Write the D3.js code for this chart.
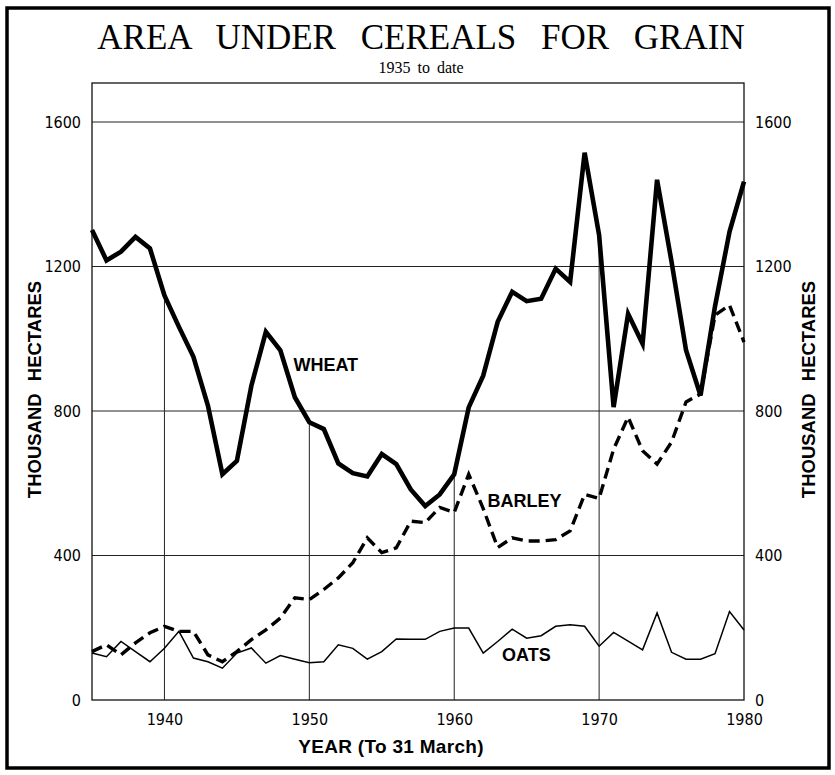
<!DOCTYPE html>
<html>
<head>
<meta charset="utf-8">
<script src="https://cdn.jsdelivr.net/npm/d3@7"></script>
<style>
body { margin: 0; background: #fff; }
svg { display: block; }
</style>
</head>
<body>
<svg></svg>
<script>
var years = [1935, 1936, 1937, 1938, 1939, 1940, 1941, 1942, 1943, 1944,
	1945, 1946, 1947, 1948, 1949, 1950, 1951, 1952, 1953, 1954,
	1955, 1956, 1957, 1958, 1959, 1960, 1961, 1962, 1963, 1964,
	1965, 1966, 1967, 1968, 1969, 1970, 1971, 1972, 1973, 1974,
	1975, 1976, 1977, 1978, 1979, 1980];
// thousand hectares
var wheat = [1301, 1217, 1241, 1282, 1250, 1120, 1033, 950, 815, 625,
	662, 870, 1019, 968, 838, 769, 750, 655, 628, 619,
	681, 653, 583, 537, 569, 625, 810, 898, 1047, 1130,
	1104, 1111, 1194, 1157, 1515, 1287, 811, 1069, 986, 1440,
	1213, 968, 843, 1090, 1296, 1435];
var barley = [134, 153, 125, 158, 186, 204, 190, 190, 125, 106,
	134, 167, 194, 227, 283, 278, 306, 338, 380, 449,
	408, 421, 495, 491, 533, 519, 625, 530, 422, 449,
	440, 440, 444, 468, 569, 558, 694, 783, 690, 653,
	714, 825, 847, 1065, 1093, 991];
var oats = [130, 120, 162, 134, 106, 143, 190, 116, 106, 88,
	130, 144, 102, 123, 113, 103, 106, 153, 143, 113,
	134, 169, 168, 168, 190, 199, 199, 130, 162, 196,
	171, 178, 204, 208, 204, 149, 187, 163, 139, 241,
	132, 113, 113, 128, 245, 194];
var yTicks = [0, 400, 800, 1200, 1600];
var xTicks = [1940, 1950, 1960, 1970, 1980];
var markYears = [1940, 1950, 1960, 1970];

var svg_width = 835, svg_height = 775;
var margin = { top: 83, right: 91, bottom: 75, left: 92 };
var width = svg_width - margin.left - margin.right;
var height = svg_height - margin.top - margin.bottom;

var svg = d3.select("svg")
	.attr("width", svg_width)
	.attr("height", svg_height);

// outer frame
svg.append("rect")
	.attr("x", 7).attr("y", 8)
	.attr("width", 822).attr("height", 760)
	.attr("fill", "none")
	.attr("stroke", "#000")
	.attr("stroke-width", 3.5);

svg.append("text")
	.attr("x", 421).attr("y", 49)
	.attr("text-anchor", "middle")
	.attr("font-family", "Liberation Serif, serif")
	.attr("font-size", 35)
	.attr("word-spacing", 16)
	.text("AREA UNDER CEREALS FOR GRAIN");

svg.append("text")
	.attr("x", 421).attr("y", 73)
	.attr("text-anchor", "middle")
	.attr("font-family", "Liberation Serif, serif")
	.attr("font-size", 16)
	.attr("word-spacing", 3)
	.text("1935 to date");

var g = svg.append("g")
	.attr("transform", "translate(" + margin.left + "," + margin.top + ")");

var x = d3.scaleLinear().domain([1935, 1980]).range([0, width]);
var y = d3.scaleLinear().domain([0, 1708]).range([height, 0]);

// horizontal grid
g.selectAll(".hgrid")
	.data(yTicks.slice(1))
	.enter().append("line")
	.attr("class", "hgrid")
	.attr("x1", 0).attr("x2", width)
	.attr("y1", function (d) { return y(d); })
	.attr("y2", function (d) { return y(d); })
	.attr("stroke", "#222")
	.attr("stroke-width", 1);

// vertical markers, from the wheat line down to the axis
g.selectAll(".vgrid")
	.data(markYears)
	.enter().append("line")
	.attr("class", "vgrid")
	.attr("x1", function (d) { return x(d); })
	.attr("x2", function (d) { return x(d); })
	.attr("y1", function (d) { return y(wheat[years.indexOf(d)]); })
	.attr("y2", height)
	.attr("stroke", "#222")
	.attr("stroke-width", 1);

g.append("rect")
	.attr("width", width).attr("height", height)
	.attr("fill", "none")
	.attr("stroke", "#111")
	.attr("stroke-width", 1.3);

var tickFont = "Liberation Sans Narrow, DejaVu Sans Condensed, Liberation Sans, sans-serif";

var left = g.append("g")
	.call(d3.axisLeft(y).tickValues(yTicks).tickSize(0).tickPadding(11).tickFormat(d3.format("d")));
var right = g.append("g")
	.attr("transform", "translate(" + width + ",0)")
	.call(d3.axisRight(y).tickValues(yTicks).tickSize(0).tickPadding(11).tickFormat(d3.format("d")));
var bottom = g.append("g")
	.attr("transform", "translate(0," + height + ")")
	.call(d3.axisBottom(x).tickValues(xTicks).tickSize(0).tickPadding(14).tickFormat(d3.format("d")));

[left, right, bottom].forEach(function (a) {
	a.select(".domain").remove();
	a.selectAll("text")
		.attr("font-family", tickFont)
		.attr("font-size", 16)
		.attr("fill", "#000");
});

function lineFor(values) {
	return d3.line()
		.x(function (d, i) { return x(years[i]); })
		.y(function (d) { return y(d); })(values);
}

g.append("path")
	.attr("d", lineFor(oats))
	.attr("fill", "none")
	.attr("stroke", "#000")
	.attr("stroke-width", 1.5);

g.append("path")
	.attr("d", lineFor(barley))
	.attr("fill", "none")
	.attr("stroke", "#000")
	.attr("stroke-width", 3.4)
	.attr("stroke-dasharray", "11,6");

g.append("path")
	.attr("d", lineFor(wheat))
	.attr("fill", "none")
	.attr("stroke", "#000")
	.attr("stroke-width", 4.6)
	.attr("stroke-linejoin", "miter");

var labelFont = "Liberation Sans, Arial, sans-serif";

function seriesLabel(name, yr, val) {
	g.append("text")
		.attr("x", x(yr)).attr("y", y(val))
		.attr("font-family", labelFont)
		.attr("font-weight", "bold")
		.attr("font-size", 18)
		.text(name);
}
seriesLabel("WHEAT", 1948.9, 911);
seriesLabel("BARLEY", 1962.3, 534);
seriesLabel("OATS", 1963.3, 108);

// axis titles
svg.append("text")
	.attr("transform", "translate(41," + (margin.top + height / 2 - 2) + ") rotate(-90)")
	.attr("text-anchor", "middle")
	.attr("font-family", labelFont)
	.attr("font-weight", "bold")
	.attr("font-size", 18.5)
	.attr("word-spacing", 7)
	.text("THOUSAND HECTARES");

svg.append("text")
	.attr("transform", "translate(815," + (margin.top + height / 2 - 2) + ") rotate(-90)")
	.attr("text-anchor", "middle")
	.attr("font-family", labelFont)
	.attr("font-weight", "bold")
	.attr("font-size", 18.5)
	.attr("word-spacing", 7)
	.text("THOUSAND HECTARES");

svg.append("text")
	.attr("x", 391).attr("y", 753)
	.attr("text-anchor", "middle")
	.attr("font-family", labelFont)
	.attr("font-weight", "bold")
	.attr("font-size", 19)
	.attr("letter-spacing", 0.3)
	.text("YEAR (To 31 March)");
</script>
</body>
</html>
